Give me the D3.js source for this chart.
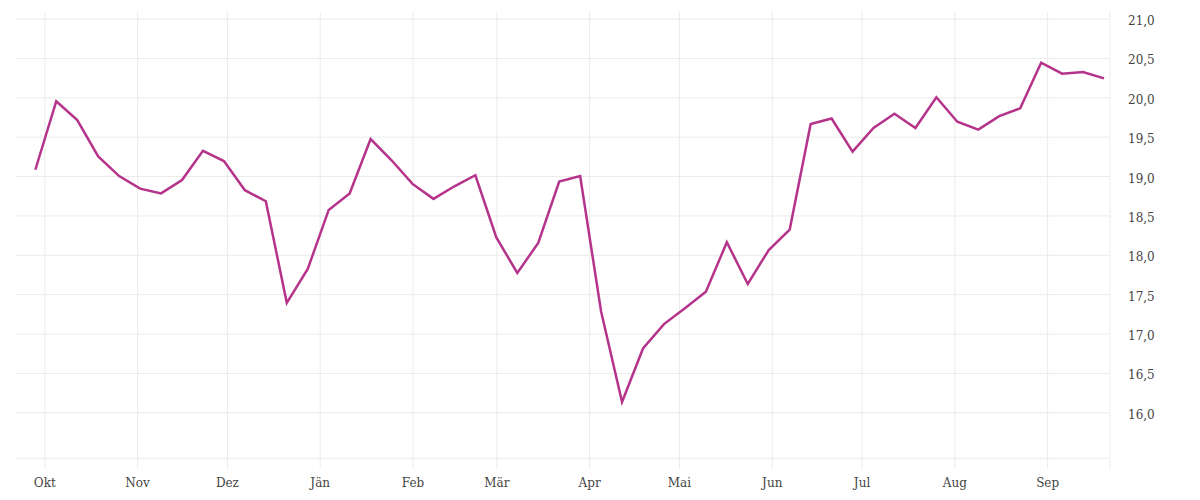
<!DOCTYPE html>
<html lang="de">
<head>
<meta charset="utf-8">
<title>Wochenverlauf</title>
<style>
  body { margin: 0; background: #fff; }
  #chart text { font-family: "DejaVu Serif", serif; font-size: 12px; fill: #444; }
</style>
<script src="https://d3js.org/d3.v7.min.js"></script>
</head>
<body>
<div id="chart"></div>
<script>
// weekly values
var dates = [
  "2022-09-28","2022-10-05","2022-10-12","2022-10-19","2022-10-26","2022-11-02",
  "2022-11-09","2022-11-16","2022-11-23","2022-11-30","2022-12-07","2022-12-14",
  "2022-12-21","2022-12-28","2023-01-04","2023-01-11","2023-01-18","2023-01-25",
  "2023-02-01","2023-02-08","2023-02-15","2023-02-22","2023-03-01","2023-03-08",
  "2023-03-15","2023-03-22","2023-03-29","2023-04-05","2023-04-12","2023-04-19",
  "2023-04-26","2023-05-03","2023-05-10","2023-05-17","2023-05-24","2023-05-31",
  "2023-06-07","2023-06-14","2023-06-21","2023-06-28","2023-07-05","2023-07-12",
  "2023-07-19","2023-07-26","2023-08-02","2023-08-09","2023-08-16","2023-08-23",
  "2023-08-30","2023-09-06","2023-09-13","2023-09-20"
];
var values = [
  19.08, 19.95, 19.71, 19.25, 19.00, 18.84,
  18.78, 18.95, 19.32, 19.19, 18.82, 18.68,
  17.39, 17.82, 18.57, 18.78, 19.47, 19.20,
  18.90, 18.71, 18.87, 19.01, 18.22, 17.77,
  18.15, 18.93, 19.00, 17.28, 16.13, 16.81,
  17.12, 17.32, 17.53, 18.16, 17.63, 18.06,
  18.32, 19.66, 19.73, 19.31, 19.61, 19.79,
  19.61, 20.00, 19.69, 19.59, 19.76, 19.86,
  20.44, 20.30, 20.32, 20.24
];
var monthTicks = ["2022-10-01","2022-11-01","2022-12-01","2023-01-01","2023-02-01","2023-03-01",
                  "2023-04-01","2023-05-01","2023-06-01","2023-07-01","2023-08-01","2023-09-01"];
var monthLabels = ["Okt","Nov","Dez","Jän","Feb","Mär","Apr","Mai","Jun","Jul","Aug","Sep"];
var yTicks = [16.0, 16.5, 17.0, 17.5, 18.0, 18.5, 19.0, 19.5, 20.0, 20.5, 21.0];

var width = 1200, height = 500;
var mLeft = 15, mRight = 1110, mTop = 12, mBottom = 458.3;
var parse = d3.timeParse("%Y-%m-%d");
var data = dates.map(function (d, i) { return { date: parse(d), value: values[i] }; });

var x = d3.scaleTime()
  .domain([new Date(2022, 8, 21, 5), new Date(2023, 8, 22)])
  .range([mLeft, mRight]);
var y = d3.scaleLinear()
  .domain([15.416, 21.083])
  .range([mBottom, mTop]);

var svg = d3.select("#chart").append("svg")
  .attr("width", width).attr("height", height);

// horizontal grid + labels on the right
var yAxis = d3.axisRight(y)
  .tickValues(yTicks)
  .tickSize(-(mRight - mLeft))
  .tickPadding(18)
  .tickFormat(function (d) { return d3.format(".1f")(d).replace(".", ","); });
var gy = svg.append("g").attr("transform", "translate(" + mRight + ",0)").call(yAxis);
gy.select(".domain").remove();
gy.selectAll(".tick line").attr("stroke", "#ebebeb");
gy.selectAll(".tick text").attr("text-anchor", "start").attr("dy", "0.5em");

// bottom baseline
svg.append("line")
  .attr("x1", mLeft).attr("x2", mRight)
  .attr("y1", mBottom).attr("y2", mBottom)
  .attr("stroke", "#ebebeb");

// vertical month grid + labels
var xAxis = d3.axisBottom(x)
  .tickValues(monthTicks.map(parse))
  .tickSize(-(mBottom - mTop) - 10)
  .tickPadding(10)
  .tickFormat(function (d, i) { return monthLabels[i]; });
var gx = svg.append("g").attr("transform", "translate(0," + (mBottom + 10) + ")").call(xAxis);
gx.select(".domain").remove();
gx.selectAll(".tick line").attr("stroke", "#ebebeb");

// right edge line
svg.append("line")
  .attr("x1", mRight).attr("x2", mRight)
  .attr("y1", mTop).attr("y2", mBottom + 10)
  .attr("stroke", "#ebebeb");

var line = d3.line()
  .x(function (d) { return x(d.date); })
  .y(function (d) { return y(d.value); });

svg.append("path")
  .datum(data)
  .attr("fill", "none")
  .attr("stroke", "#b5338a")
  .attr("stroke-width", 2.5)
  .attr("stroke-linejoin", "miter")
  .attr("d", line);
</script>
</body>
</html>
